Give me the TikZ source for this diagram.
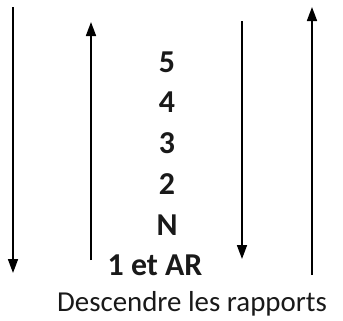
\documentclass[tikz,border=0pt]{standalone}
\usepackage{fontspec}
\setmainfont{Carlito}
\usetikzlibrary{arrows.meta}
\begin{document}
\begin{tikzpicture}[x=1bp,y=-1bp,
  arr/.style={line width=1.7bp,-{Triangle[length=14bp,width=10bp]}},
  lab/.style={font=\fontsize{32}{35}\selectfont\bfseries,inner sep=0pt,text=black!90},
  captext/.style={font=\fontsize{29}{32}\selectfont,inner sep=0pt,text=black!90}]
\useasboundingbox (0,0) rectangle (343,321);
\coordinate (a1s) at (13,7);   \coordinate (a1e) at (13,273);
\coordinate (a2s) at (91,260); \coordinate (a2e) at (91,22);
\coordinate (a3s) at (242,21); \coordinate (a3e) at (242,259);
\coordinate (a4s) at (312,275); \coordinate (a4e) at (312,7);
\draw[arr] (a1s) -- (a1e);
\draw[arr] (a2s) -- (a2e);
\draw[arr] (a3s) -- (a3e);
\draw[arr] (a4s) -- (a4e);
\node[lab] (n5) at (167,62) {5};
\node[lab] (n4) at (167,102) {4};
\node[lab] (n3) at (167,143) {3};
\node[lab] (n2) at (167,184) {2};
\node[lab] (nN) at (167,225) {N};
\node[lab] (n1) at (155,265) {1 et AR};
\node[captext] (c) at (192,304) {Descendre les rapports};
\end{tikzpicture}
\end{document}
